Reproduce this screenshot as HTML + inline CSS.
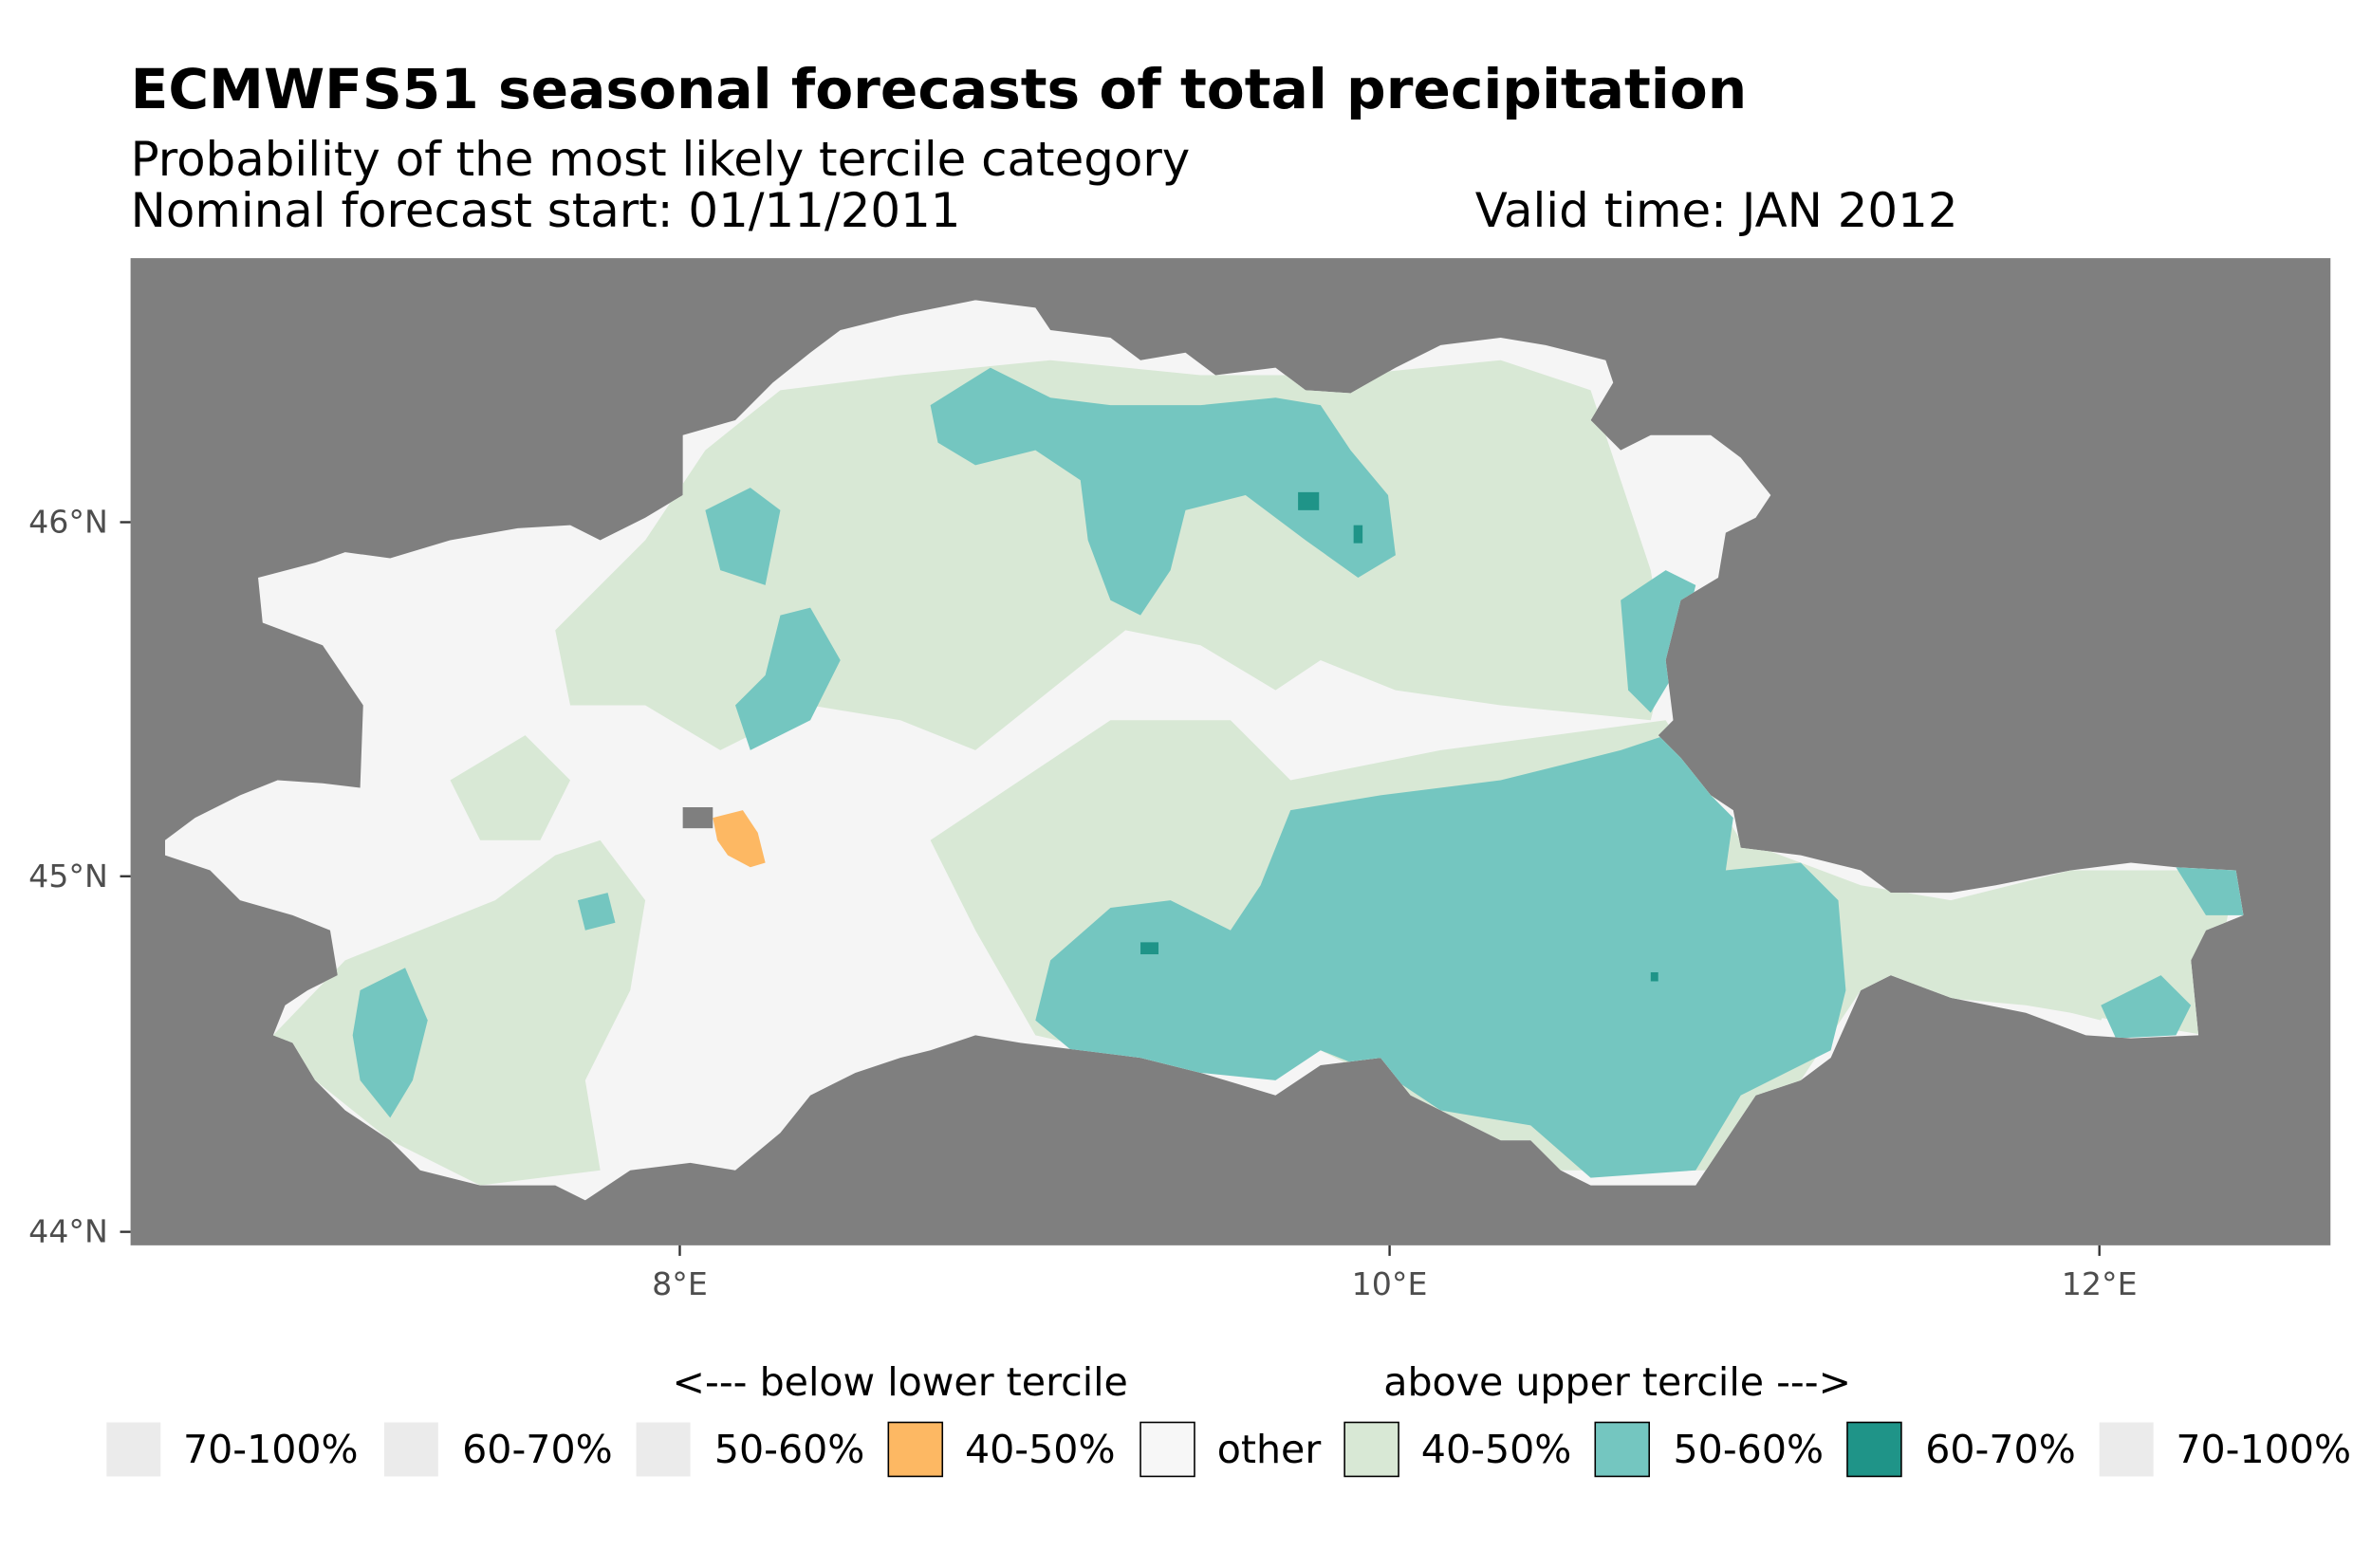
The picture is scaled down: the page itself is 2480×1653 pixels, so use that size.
<!DOCTYPE html>
<html><head><meta charset="utf-8"><style>
html,body{margin:0;padding:0;background:#fff}
svg{display:block}
text{font-family:"DejaVu Sans","Liberation Sans",sans-serif}
</style></head><body>
<svg width="2480" height="1653" viewBox="0 0 1568 1045" xmlns="http://www.w3.org/2000/svg">
<rect width="1568" height="1045" fill="#fff"/>
<text x="87" y="72" font-size="36.8" font-weight="bold" fill="#000">ECMWFS51 seasonal forecasts of total precipitation</text>
<text x="87" y="117" font-size="31.5" fill="#000">Probability of the most likely tercile category</text>
<text x="87" y="151" font-size="31.5" fill="#000">Nominal forecast start: 01/11/2011</text>
<text x="983" y="151" font-size="31.5" fill="#000">Valid time: JAN 2012</text>
<rect x="87" y="172" width="1466" height="658" fill="#7f7f7f"/>
<defs><clipPath id="c"><polygon points="110,560 130,545 160,530 185,520 215,522 240,525 242,470 215,430 175,415 172,385 210,375 230,368 260,372 300,360 345,352 380,350 400,360 430,345 455,330 455,290 490,280 515,255 540,235 560,220 600,210 650,200 690,205 700,220 740,225 760,240 790,235 810,250 850,245 870,260 900,262 930,245 960,230 1000,225 1030,230 1070,240 1075,255 1060,280 1080,300 1100,290 1140,290 1160,305 1180,330 1170,345 1150,355 1145,385 1120,400 1110,440 1115,480 1105,490 1120,505 1140,530 1155,540 1160,565 1200,570 1240,580 1260,595 1300,595 1330,590 1380,580 1420,575 1450,578 1490,580 1495,610 1470,620 1460,640 1465,690 1420,692 1390,690 1350,675 1300,665 1260,650 1240,660 1220,705 1200,720 1170,730 1150,760 1130,790 1100,790 1060,790 1040,780 1020,760 1000,760 960,740 940,730 920,705 880,710 850,730 800,715 760,705 720,700 680,695 650,690 620,700 600,705 570,715 540,730 520,755 490,780 460,775 420,780 390,800 370,790 320,790 280,780 260,760 230,740 210,720 195,695 182,690 190,670 205,660 225,650 220,620 195,610 160,600 140,580 110,570"/></clipPath></defs>
<g clip-path="url(#c)">
<rect x="87" y="172" width="1466" height="658" fill="#f5f5f5"/>
<g fill="#d8e8d5">
<polygon points="370,420 430,360 470,300 520,260 600,250 700,240 800,250 900,250 1000,240 1060,260 1080,320 1100,380 1110,440 1100,480 1000,470 930,460 880,440 850,460 800,430 750,420 700,460 650,500 600,480 540,470 480,500 430,470 380,470"/>
<polygon points="680,520 740,480 820,480 860,520 960,500 1110,480 1160,560 1240,590 1300,600 1380,580 1490,580 1470,690 1350,670 1240,660 1200,720 1140,780 1040,780 960,740 880,700 800,715 690,690 650,620 620,560"/>
<polygon points="182,690 230,640 280,620 330,600 370,570 400,560 430,600 420,660 390,720 400,780 320,790 260,760 210,720"/>
<polygon points="300,520 350,490 380,520 360,560 320,560"/>
<polygon points="870,290 960,270 1000,300 990,340 930,350 880,330"/>
<polygon points="1250,600 1330,600 1380,600 1420,640 1400,680 1320,660 1260,640"/>
</g>
<g fill="#74c6c0">
<polygon points="860,540 920,530 1000,520 1080,500 1110,490 1140,530 1155,545 1150,580 1200,575 1225,600 1230,660 1220,700 1160,730 1130,780 1060,785 1020,750 960,740 930,720 880,700 850,720 800,715 720,705 690,680 700,640 740,605 780,600 820,620 840,590"/>
<polygon points="620,270 660,245 700,265 740,270 800,270 850,265 880,270 900,300 925,330 930,370 905,385 870,360 830,330 790,340 780,380 760,410 740,400 725,360 720,320 690,300 650,310 625,295"/>
<polygon points="470,340 500,325 520,340 510,390 480,380"/>
<polygon points="520,410 540,405 560,440 540,480 500,500 490,470 510,450"/>
<polygon points="1080,400 1110,380 1130,390 1115,450 1100,475 1085,460"/>
<polygon points="240,660 270,645 285,680 275,720 260,745 240,720 235,690"/>
<polygon points="1400,670 1440,650 1460,670 1450,690 1410,692"/>
<polygon points="385,600 405,595 410,615 390,620"/>
<polygon points="1450,578 1490,580 1495,610 1470,610"/>
</g>
<g fill="#1f9488">
<rect x="865" y="328" width="14" height="12"/>
<rect x="902" y="350" width="6" height="12"/>
<rect x="760" y="628" width="12" height="8"/>
<rect x="1100" y="648" width="5" height="6"/>
</g>
<polygon points="475,545 495,540 505,555 510,575 500,578 485,570 478,560" fill="#fdb863"/>
<rect x="455" y="538" width="20" height="14" fill="#7f7f7f"/>
</g>
<g font-size="21" fill="#4d4d4d">
<text x="72" y="355" text-anchor="end">46°N</text>
<text x="72" y="591" text-anchor="end">45°N</text>
<text x="72" y="828" text-anchor="end">44°N</text>
<text x="453" y="863" text-anchor="middle">8°E</text>
<text x="926" y="863" text-anchor="middle">10°E</text>
<text x="1399" y="863" text-anchor="middle">12°E</text>
</g>
<g stroke="#333" stroke-width="1.5">
<line x1="80" y1="348" x2="87" y2="348"/><line x1="80" y1="584" x2="87" y2="584"/><line x1="80" y1="821" x2="87" y2="821"/>
<line x1="453" y1="830" x2="453" y2="837"/><line x1="926" y1="830" x2="926" y2="837"/><line x1="1399" y1="830" x2="1399" y2="837"/>
</g>
<g font-size="26" fill="#000">
<text x="448" y="930">&lt;--- below lower tercile</text>
<text x="922" y="930">above upper tercile ---&gt;</text>
</g>
<g font-size="26" fill="#000">
<rect x="71" y="948" width="36" height="36" fill="#ebebeb"/><text x="122" y="975">70-100%</text>
<rect x="256" y="948" width="36" height="36" fill="#ebebeb"/><text x="308" y="975">60-70%</text>
<rect x="424" y="948" width="36" height="36" fill="#ebebeb"/><text x="476" y="975">50-60%</text>
<rect x="592" y="948" width="36" height="36" fill="#fdb863" stroke="#000"/><text x="643" y="975">40-50%</text>
<rect x="760" y="948" width="36" height="36" fill="#f7f7f7" stroke="#000"/><text x="811" y="975">other</text>
<rect x="896" y="948" width="36" height="36" fill="#d8e8d5" stroke="#000"/><text x="947" y="975">40-50%</text>
<rect x="1063" y="948" width="36" height="36" fill="#74c6c0" stroke="#000"/><text x="1115" y="975">50-60%</text>
<rect x="1231" y="948" width="36" height="36" fill="#1f9488" stroke="#000"/><text x="1283" y="975">60-70%</text>
<rect x="1399" y="948" width="36" height="36" fill="#ebebeb"/><text x="1450" y="975">70-100%</text>
</g>
</svg>
</body></html>
